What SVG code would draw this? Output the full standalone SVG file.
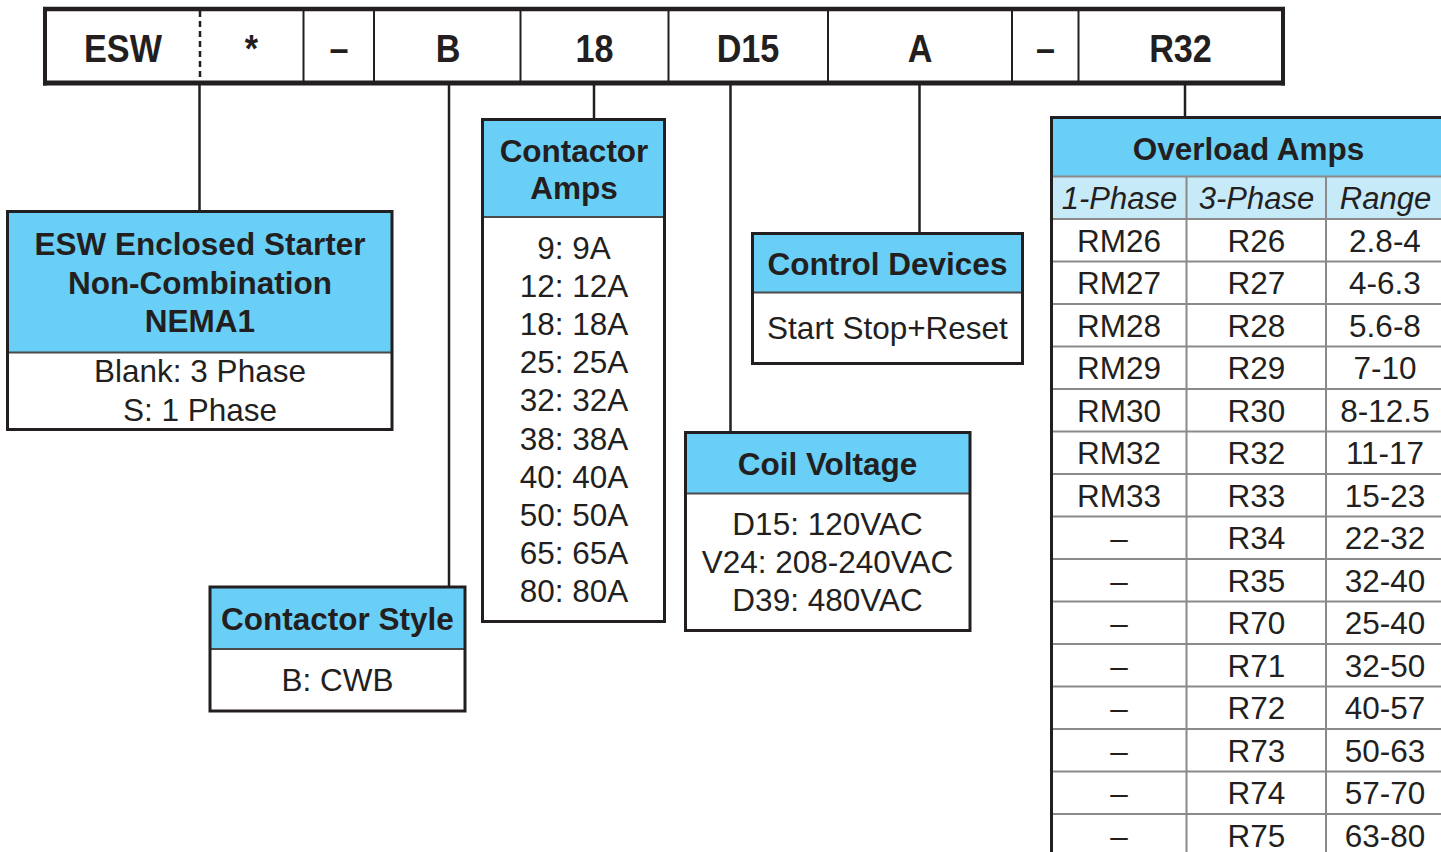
<svg xmlns="http://www.w3.org/2000/svg" width="1441" height="852" viewBox="0 0 1441 852">
<style>
.t{font-family:"Liberation Sans",Arial,sans-serif;fill:#231F20;text-anchor:middle}
.b{font-weight:bold;font-size:31.5px}
.r{font-size:31.5px}
.i{font-size:31px;font-style:italic}
.top{font-weight:bold;font-size:38px}
.hdr{fill:#69CFF6}
.sub{fill:#C7EAF9}
.box{fill:none;stroke:#231F20;stroke-width:3}
.sep{stroke:#4a4a4a;stroke-width:2}
.grid{stroke:#8a8a8a;stroke-width:2}
.con{stroke:#231F20;stroke-width:2.5;fill:none}
.div{stroke:#231F20;stroke-width:2}
</style>
<rect width="1441" height="852" fill="#ffffff"/>

<g id="connectors">
<line class="con" x1="199.5" y1="85" x2="199.5" y2="211"/>
<line class="con" x1="449" y1="85" x2="449" y2="587"/>
<line class="con" x1="594" y1="85" x2="594" y2="119"/>
<line class="con" x1="730.5" y1="85" x2="730.5" y2="432"/>
<line class="con" x1="919.5" y1="85" x2="919.5" y2="233"/>
<line class="con" x1="1185" y1="85" x2="1185" y2="117"/>
</g>

<g id="part-number-bar">
<rect x="45" y="9" width="1238" height="74" fill="#ffffff"/>
<line x1="200" y1="11" x2="200" y2="81" stroke="#231F20" stroke-width="2.5" stroke-dasharray="6 4"/>
<line class="div" x1="303.5" y1="9" x2="303.5" y2="83"/>
<line class="div" x1="374" y1="9" x2="374" y2="83"/>
<line class="div" x1="520.5" y1="9" x2="520.5" y2="83"/>
<line class="div" x1="668.5" y1="9" x2="668.5" y2="83"/>
<line class="div" x1="828" y1="9" x2="828" y2="83"/>
<line class="div" x1="1012" y1="9" x2="1012" y2="83"/>
<line class="div" x1="1078.5" y1="9" x2="1078.5" y2="83"/>
<line x1="43" y1="9" x2="1285" y2="9" stroke="#231F20" stroke-width="4.5"/>
<line x1="43" y1="83" x2="1285" y2="83" stroke="#231F20" stroke-width="5"/>
<line x1="45" y1="7" x2="45" y2="85.5" stroke="#231F20" stroke-width="4"/>
<line x1="1283" y1="7" x2="1283" y2="85.5" stroke="#231F20" stroke-width="4"/>
<text class="t top" transform="translate(123,61.5) scale(0.9 1)">ESW</text>
<text class="t top" transform="translate(251.5,61.5) scale(0.9 1)">*</text>
<text class="t top" transform="translate(339,61.5) scale(0.9 1)">–</text>
<text class="t top" transform="translate(448,61.5) scale(0.9 1)">B</text>
<text class="t top" transform="translate(594.5,61.5) scale(0.9 1)">18</text>
<text class="t top" transform="translate(748,61.5) scale(0.9 1)">D15</text>
<text class="t top" transform="translate(920,61.5) scale(0.9 1)">A</text>
<text class="t top" transform="translate(1045.5,61.5) scale(0.9 1)">–</text>
<text class="t top" transform="translate(1180.5,61.5) scale(0.9 1)">R32</text>
</g>

<g id="esw-starter">
<rect x="7.5" y="211.5" width="384.5" height="141" class="hdr"/>
<rect x="7.5" y="352.5" width="384.5" height="77" fill="#ffffff"/>
<line class="sep" x1="7.5" y1="352.5" x2="392" y2="352.5"/>
<rect x="7.5" y="211.5" width="384.5" height="218" class="box"/>
<text class="t b" x="200" y="255">ESW Enclosed Starter</text>
<text class="t b" x="200" y="294">Non-Combination</text>
<text class="t b" x="200" y="332">NEMA1</text>
<text class="t r" x="200" y="382">Blank: 3 Phase</text>
<text class="t r" x="200" y="421">S: 1 Phase</text>
</g>

<g id="contactor-style">
<rect x="210" y="587" width="255" height="62" class="hdr"/>
<rect x="210" y="649" width="255" height="62" fill="#ffffff"/>
<line class="sep" x1="210" y1="649" x2="465" y2="649"/>
<rect x="210" y="587" width="255" height="124" class="box"/>
<text class="t b" x="337.5" y="629.5">Contactor Style</text>
<text class="t r" x="337.5" y="690.5">B: CWB</text>
</g>

<g id="contactor-amps">
<rect x="482.5" y="119.5" width="182" height="97.5" class="hdr"/>
<rect x="482.5" y="217" width="182" height="404.5" fill="#ffffff"/>
<line class="sep" x1="482.5" y1="217" x2="664.5" y2="217"/>
<rect x="482.5" y="119.5" width="182" height="502" class="box"/>
<text class="t b" x="574" y="161.5">Contactor</text>
<text class="t b" x="574" y="199">Amps</text>
<text class="t r" x="574" y="258.5">9: 9A</text>
<text class="t r" x="574" y="296.7">12: 12A</text>
<text class="t r" x="574" y="334.9">18: 18A</text>
<text class="t r" x="574" y="373.1">25: 25A</text>
<text class="t r" x="574" y="411.3">32: 32A</text>
<text class="t r" x="574" y="449.5">38: 38A</text>
<text class="t r" x="574" y="487.7">40: 40A</text>
<text class="t r" x="574" y="525.9">50: 50A</text>
<text class="t r" x="574" y="564.1">65: 65A</text>
<text class="t r" x="574" y="602.3">80: 80A</text>
</g>

<g id="control-devices">
<rect x="752.5" y="233.5" width="270" height="59" class="hdr"/>
<rect x="752.5" y="292.5" width="270" height="71" fill="#ffffff"/>
<line class="sep" x1="752.5" y1="292.5" x2="1022.5" y2="292.5"/>
<rect x="752.5" y="233.5" width="270" height="130" class="box"/>
<text class="t b" x="887.5" y="274.5">Control Devices</text>
<text class="t r" x="887.5" y="338.5">Start Stop+Reset</text>
</g>

<g id="coil-voltage">
<rect x="685.5" y="432.5" width="284.5" height="61" class="hdr"/>
<rect x="685.5" y="493.5" width="284.5" height="137" fill="#ffffff"/>
<line class="sep" x1="685.5" y1="493.5" x2="970" y2="493.5"/>
<rect x="685.5" y="432.5" width="284.5" height="198" class="box"/>
<text class="t b" x="827.5" y="474.5">Coil Voltage</text>
<text class="t r" x="827.5" y="535">D15: 120VAC</text>
<text class="t r" x="827.5" y="573">V24: 208-240VAC</text>
<text class="t r" x="827.5" y="611">D39: 480VAC</text>
</g>

<g id="overload-amps">
<rect x="1051.5" y="117.5" width="395" height="59" class="hdr"/>
<rect x="1051.5" y="176.5" width="395" height="42.5" class="sub"/>
<g class="grid">
<line x1="1051.5" y1="176.5" x2="1446" y2="176.5"/>
<line x1="1051.5" y1="219" x2="1446" y2="219"/>
<line x1="1051.5" y1="261.5" x2="1446" y2="261.5"/>
<line x1="1051.5" y1="304" x2="1446" y2="304"/>
<line x1="1051.5" y1="346.5" x2="1446" y2="346.5"/>
<line x1="1051.5" y1="389" x2="1446" y2="389"/>
<line x1="1051.5" y1="431.5" x2="1446" y2="431.5"/>
<line x1="1051.5" y1="474" x2="1446" y2="474"/>
<line x1="1051.5" y1="516.5" x2="1446" y2="516.5"/>
<line x1="1051.5" y1="559" x2="1446" y2="559"/>
<line x1="1051.5" y1="601.5" x2="1446" y2="601.5"/>
<line x1="1051.5" y1="644" x2="1446" y2="644"/>
<line x1="1051.5" y1="686.5" x2="1446" y2="686.5"/>
<line x1="1051.5" y1="729" x2="1446" y2="729"/>
<line x1="1051.5" y1="771.5" x2="1446" y2="771.5"/>
<line x1="1051.5" y1="814" x2="1446" y2="814"/>
<line x1="1186.5" y1="176.5" x2="1186.5" y2="860"/>
<line x1="1326" y1="176.5" x2="1326" y2="860"/>
</g>
<line x1="1051" y1="117.5" x2="1446" y2="117.5" stroke="#231F20" stroke-width="3"/>
<line x1="1051.5" y1="116" x2="1051.5" y2="860" stroke="#231F20" stroke-width="3"/>
<text class="t b" x="1248.5" y="159.5">Overload Amps</text>
<text class="t i" x="1119.5" y="209">1-Phase</text>
<text class="t i" x="1256.5" y="209">3-Phase</text>
<text class="t i" x="1385.5" y="209">Range</text>
<g class="t r">
<text x="1119" y="251.5">RM26</text><text x="1256.5" y="251.5">R26</text><text x="1385" y="251.5">2.8-4</text>
<text x="1119" y="294">RM27</text><text x="1256.5" y="294">R27</text><text x="1385" y="294">4-6.3</text>
<text x="1119" y="336.5">RM28</text><text x="1256.5" y="336.5">R28</text><text x="1385" y="336.5">5.6-8</text>
<text x="1119" y="379">RM29</text><text x="1256.5" y="379">R29</text><text x="1385" y="379">7-10</text>
<text x="1119" y="421.5">RM30</text><text x="1256.5" y="421.5">R30</text><text x="1385" y="421.5">8-12.5</text>
<text x="1119" y="464">RM32</text><text x="1256.5" y="464">R32</text><text x="1385" y="464">11-17</text>
<text x="1119" y="506.5">RM33</text><text x="1256.5" y="506.5">R33</text><text x="1385" y="506.5">15-23</text>
<text x="1119" y="549">–</text><text x="1256.5" y="549">R34</text><text x="1385" y="549">22-32</text>
<text x="1119" y="591.5">–</text><text x="1256.5" y="591.5">R35</text><text x="1385" y="591.5">32-40</text>
<text x="1119" y="634">–</text><text x="1256.5" y="634">R70</text><text x="1385" y="634">25-40</text>
<text x="1119" y="676.5">–</text><text x="1256.5" y="676.5">R71</text><text x="1385" y="676.5">32-50</text>
<text x="1119" y="719">–</text><text x="1256.5" y="719">R72</text><text x="1385" y="719">40-57</text>
<text x="1119" y="761.5">–</text><text x="1256.5" y="761.5">R73</text><text x="1385" y="761.5">50-63</text>
<text x="1119" y="804">–</text><text x="1256.5" y="804">R74</text><text x="1385" y="804">57-70</text>
<text x="1119" y="846.5">–</text><text x="1256.5" y="846.5">R75</text><text x="1385" y="846.5">63-80</text>
</g>
</g>
</svg>
